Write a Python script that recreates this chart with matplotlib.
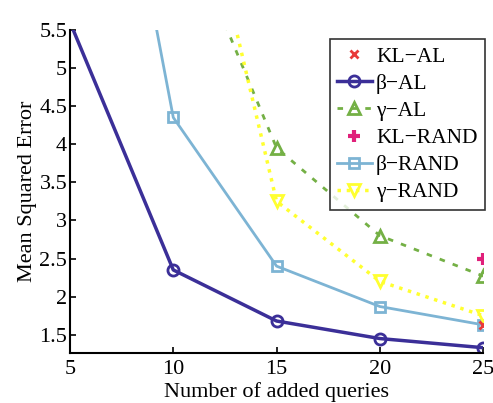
import numpy as np
import matplotlib.pyplot as plt
plt.rcParams.update({'font.size': 16, 'font.family': ['Liberation Serif', 'DejaVu Serif']})

x = [5, 10, 15, 20, 25]
beta_al = [5.6, 2.35, 1.68, 1.45, 1.33]      # beta-AL
beta_rand = [11.5, 4.35, 2.4, 1.87, 1.63]    # beta-RAND
x_g = [10, 15, 20, 25]
gamma_al = [7.2, 3.95, 2.8, 2.27]            # gamma-AL
gamma_rand = [9.0, 3.25, 2.2, 1.75]          # gamma-RAND
kl_al_x = [25]
kl_al = [1.63]
kl_rand_x = [25]
kl_rand = [2.5]

fig = plt.figure(figsize=(4.93, 4.03), dpi=100)
ax = fig.add_axes([0.142, 0.124, 0.838, 0.802])

ax.plot(kl_al_x, kl_al, 'x', color='#e83a3a', ms=6, mew=2, label='KL\u2212AL', zorder=5)
ax.plot(x, beta_al, '-o', color='#3b2f98', lw=2.5, ms=8, mew=2, mfc='none', label='\u03b2\u2212AL')
ax.plot(x_g, gamma_al, '--^', color='#74b045', lw=2, ms=9, mew=2, mfc='none',
        dashes=(2, 3), label='\u03b3\u2212AL')
ax.plot(kl_rand_x, kl_rand, '+', color='#e0207a', ms=9, mew=3, label='KL\u2212RAND')
ax.plot(x, beta_rand, '-s', color='#7db4d4', lw=2, ms=7, mew=2, mfc='none', label='\u03b2\u2212RAND')
ax.plot(x_g, gamma_rand, ':v', color='#ffff30', lw=2.5, ms=9, mew=2, mfc='none',
        label='\u03b3\u2212RAND')

ax.set_xlim(5, 25)
ax.set_ylim(1.26, 5.5)
ax.set_xticks([5, 10, 15, 20, 25])
ax.set_yticks([1.5, 2, 2.5, 3, 3.5, 4, 4.5, 5, 5.5])
ax.set_yticklabels(['1.5', '2', '2.5', '3', '3.5', '4', '4.5', '5', '5.5'])
ax.tick_params(direction='in', length=4, width=1.2)
ax.tick_params(axis='x', pad=5)
ax.tick_params(axis='y', pad=2)
ax.spines['top'].set_visible(False)
ax.spines['right'].set_visible(False)
ax.spines['left'].set_linewidth(1.5)
ax.spines['bottom'].set_linewidth(1.5)
ax.set_xlabel('Number of added queries')
ax.xaxis.set_label_coords(0.5, -0.09)
ax.set_ylabel('Mean Squared Error', labelpad=2)

leg = ax.legend(loc='upper right', bbox_to_anchor=(1.015, 0.985), frameon=True, fancybox=False,
                edgecolor='black', handlelength=1.6, handletextpad=0.2, borderpad=0.35,
                labelspacing=0.33, borderaxespad=0.2, fontsize=15.5)
leg.get_frame().set_linewidth(1.2)

plt.savefig('out.png')
